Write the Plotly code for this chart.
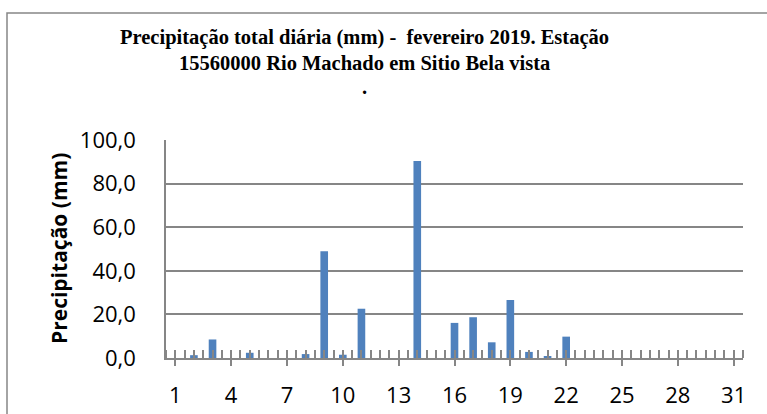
import plotly.graph_objects as go

days = list(range(1, 32))
precip = [0, 1.3, 8.5, 0, 2.4, 0, 0, 1.8, 49.0, 1.5, 22.6, 0, 0, 90.4, 0, 16.1,
          18.7, 7.2, 26.6, 2.8, 0.9, 9.8, 0, 0, 0, 0, 0, 0, 0, 0, 0]
x_tick_labels = [str(d) if (d - 1) % 3 == 0 else "" for d in days]
y_ticks = [0, 20, 40, 60, 80, 100]
y_tick_labels = ["0,0", "20,0", "40,0", "60,0", "80,0", "100,0"]

title_lines = ["Precipitação total diária (mm) -&nbsp; fevereiro 2019. Estação",
               "15560000 Rio Machado em Sitio Bela vista",
               "."]
y_title = "Precipitação (mm)"

W, H = 767, 414
L, R, T, B = 166, 743, 140, 358
pw, ph = R - L, B - T

def px(x):
    return (x - L) / pw

def py(y):
    return (B - y) / ph

grid_col = "#868686"

fig = go.Figure(go.Bar(x=days, y=precip, marker=dict(color="#4F81BD", line=dict(width=0)),
                       width=0.41))

annotations = []
for i, (line, ypos) in enumerate(zip(title_lines, [38, 63, 87])):
    annotations.append(dict(text=line, x=px(364), y=py(ypos), xref="paper", yref="paper",
                            xanchor="center", yanchor="middle", showarrow=False,
                            font=dict(family="Liberation Serif", size=20.5, color="#000000",
                                      weight="bold")))
annotations.append(dict(text=y_title, x=px(59), y=py(249), xref="paper", yref="paper",
                        xanchor="center", yanchor="middle", showarrow=False, textangle=-90,
                        font=dict(family="Open Sans", size=21, color="#000000", weight="bold")))

fig.update_layout(
    width=W, height=H,
    margin=dict(l=L, r=W - R, t=T, b=H - B, autoexpand=False),
    paper_bgcolor="white", plot_bgcolor="white",
    showlegend=False,
    annotations=annotations,
    shapes=[dict(type="rect", xref="paper", yref="paper",
                 x0=px(7), y0=py(440), x1=px(790), y1=py(13),
                 line=dict(color=grid_col, width=1.5), fillcolor="rgba(0,0,0,0)", layer="below")],
    xaxis=dict(range=[0.5, 31.5], tickmode="array", tickvals=days, ticktext=x_tick_labels,
               ticks="outside", ticklen=6, tickcolor=grid_col, tickwidth=1.5,
               showline=True, linecolor=grid_col, linewidth=1.5, showgrid=False,
               zeroline=False, ticklabelstandoff=11, automargin=False,
               minor=dict(ticks="inside", ticklen=8, tickcolor=grid_col, tickwidth=1.5,
                          tickmode="array", tickvals=[d - 0.5 for d in days] + days + [31.5]),
               tickfont=dict(family="Open Sans", size=22, color="#000000")),
    yaxis=dict(range=[0, 100], tickmode="array", tickvals=y_ticks, ticktext=y_tick_labels,
               showgrid=True, gridcolor=grid_col, gridwidth=1.5,
               showline=True, linecolor=grid_col, linewidth=1.5, zeroline=False,
               ticks="", ticklabelstandoff=24, automargin=False,
               tickfont=dict(family="Open Sans", size=22, color="#000000")),
    bargap=0.59,
)

fig.write_html("out.html", config={"displayModeBar": False},
               post_script="document.body.style.margin='0';document.body.style.overflow='hidden';")
